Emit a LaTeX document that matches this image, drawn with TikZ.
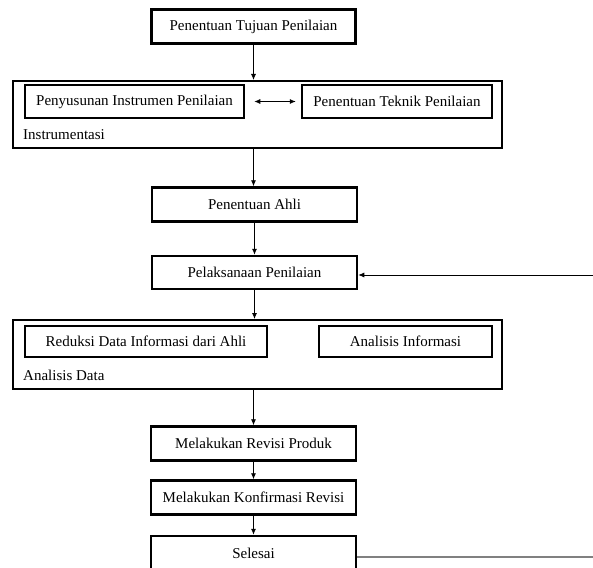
\documentclass[tikz,border=0pt]{standalone}
\usepackage{fontspec}
\setmainfont{Liberation Serif}
\usetikzlibrary{arrows.meta}

\tikzset{
    stepbox/.style={draw, line width=2.5pt, minimum height=34pt, inner sep=0pt, font=\fontsize{15}{17}\selectfont},
    groupbox/.style={draw, line width=2pt, inner sep=0pt},
    grouplabel/.style={anchor=west, inner sep=0pt, font=\fontsize{15}{17}\selectfont},
    flow/.style={-{Latex[length=6pt, width=5pt]}, line width=0.8pt},
}

\begin{document}
\begin{tikzpicture}[x=1pt, y=-1pt]
    \useasboundingbox (0, 0) rectangle (593, 567);
    \clip (0, 0) rectangle (593, 567);

    \node[stepbox, minimum width=204pt] (tujuan) at (253.5, 26.5) {Penentuan Tujuan Penilaian};

    % Instrumentasi
    \node[groupbox, minimum width=489pt, minimum height=67pt] (instr) at (257.5, 114.5) {};
    \node[stepbox, minimum width=219pt, minimum height=33pt] (penyusunan) at (134.5, 101.5) {Penyusunan Instrumen Penilaian};
    \node[stepbox, minimum width=190pt, minimum height=33pt] (teknik) at (397, 101.5) {Penentuan Teknik Penilaian};
    \node[grouplabel] (instrlabel) at (23, 135) {Instrumentasi};

    \node[stepbox, minimum width=205pt] (ahli) at (254.5, 204.5) {Penentuan Ahli};
    \node[stepbox, minimum width=205pt, minimum height=33pt] (pelaksanaan) at (254.5, 272.5) {Pelaksanaan Penilaian};

    % Analisis Data
    \node[groupbox, minimum width=489pt, minimum height=69pt] (analisis) at (257.5, 354.5) {};
    \node[stepbox, minimum width=242pt, minimum height=31pt] (reduksi) at (146, 341.5) {Reduksi Data Informasi dari Ahli};
    \node[stepbox, minimum width=173pt, minimum height=31pt] (info) at (405.5, 341.5) {Analisis Informasi};
    \node[grouplabel] (analisislabel) at (23, 375) {Analisis Data};

    \node[stepbox, minimum width=205pt] (revisi) at (253.5, 443.5) {Melakukan Revisi Produk};
    \node[stepbox, minimum width=205pt] (konfirmasi) at (253.5, 497.5) {Melakukan Konfirmasi Revisi};
    \node[stepbox, minimum width=205pt] (selesai) at (253.5, 553) {Selesai};

    \coordinate (back) at (593, 275);
    \coordinate (loop) at (593, 557);

    \draw[flow] (tujuan.south) -- (tujuan.south |- instr.north);
    \draw[{Latex[length=6pt, width=5pt]}-{Latex[length=6pt, width=5pt]}, line width=0.8pt, shorten <=9pt, shorten >=5pt] (penyusunan.east) -- (teknik.west);
    \draw[flow] (tujuan.south |- instr.south) -- (tujuan.south |- ahli.north);
    \draw[flow] (ahli.south) -- (pelaksanaan.north);
    \draw[flow] (back) -- (back -| pelaksanaan.east);
    \draw[flow] (pelaksanaan.south) -- (pelaksanaan.south |- analisis.north);
    \draw[flow] (revisi.north |- analisis.south) -- (revisi.north);
    \draw[flow] (revisi.south) -- (konfirmasi.north);
    \draw[flow] (konfirmasi.south) -- (selesai.north);
    \draw[gray, line width=1.3pt] (loop -| selesai.east) -- (loop);
\end{tikzpicture}
\end{document}
